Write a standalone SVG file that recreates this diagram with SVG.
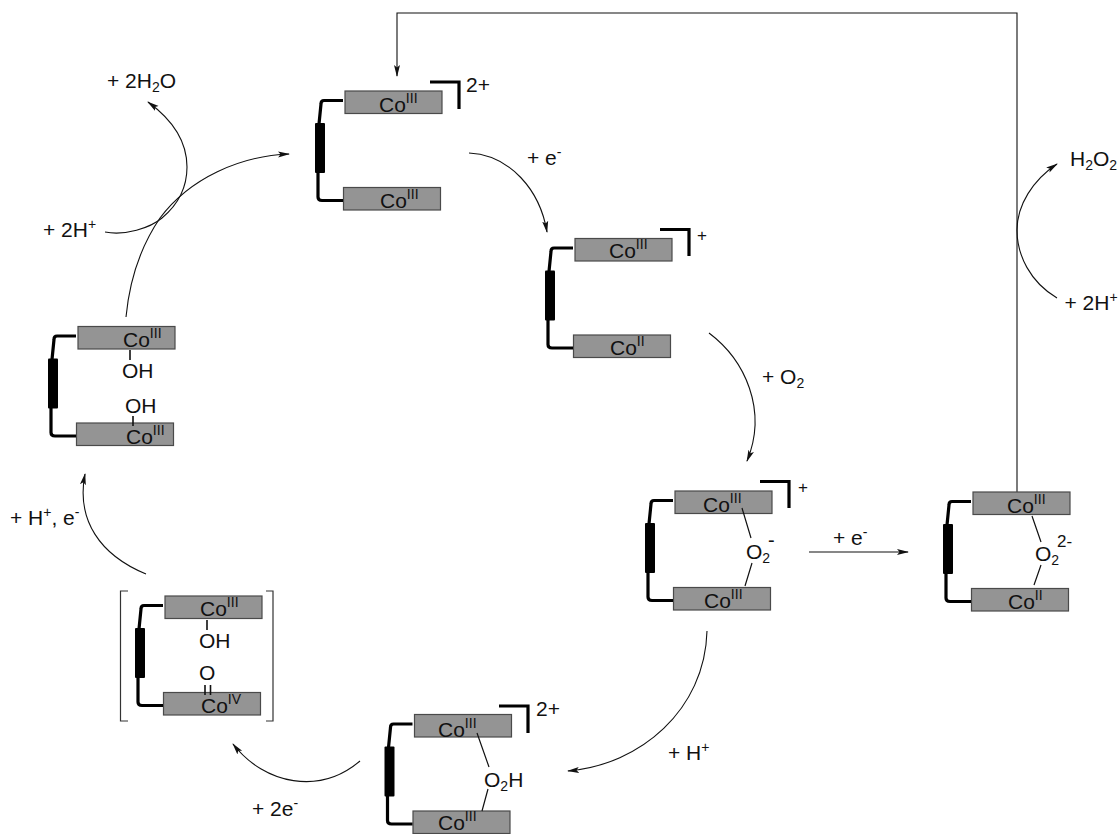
<svg xmlns="http://www.w3.org/2000/svg" width="1119" height="834" viewBox="0 0 1119 834">
<style>
text{font-family:"Liberation Sans",Arial,sans-serif;font-size:21px;fill:#111}
.s{font-size:14px}
.u{font-size:14px}
.p{font-size:17px}
.m{font-size:20px}
.bar{fill:#949494;stroke:#4a4a4a;stroke-width:1.2}
.lk{fill:none;stroke:#000;stroke-width:3.2;stroke-linejoin:round}
.blk{fill:#000}
.brk{fill:none;stroke:#000;stroke-width:3.2}
.bd{fill:none;stroke:#111;stroke-width:1.2}
.bd2{fill:none;stroke:#111;stroke-width:1.6}
.sq{fill:none;stroke:#333;stroke-width:1.2}
.cn{fill:none;stroke:#111;stroke-width:1.1;marker-end:url(#ah)}
</style>
<defs>
<marker id="ah" markerUnits="userSpaceOnUse" markerWidth="12" markerHeight="12" viewBox="0 0 12 12" refX="11" refY="6" orient="auto"><path d="M0 3 L12 6 L0 9 L2.500 6Z" fill="#111"/></marker>
<g id="frame">
<rect class="bar" x="0" y="0" width="97" height="22.500"/>
<rect class="bar" x="-1.500" y="96.500" width="97" height="22.500"/>
<path class="lk" d="M-2 9.500 H-21 Q-24 9.500 -24 13 L-26 33 M-27 80 V106 Q-27 109.500 -23 109.500 H-2"/>
<rect class="blk" x="-30" y="32" width="10" height="50" rx="1"/>
</g>
</defs>
<g id="connectors">
<path class="cn" d="M469 153 C510 155 540 190 547 232"/>
<path class="cn" d="M709 333 C745 360 768 410 747 461"/>
<path class="cn" d="M707 631 C705 710 640 765 568 771"/>
<path class="cn" d="M360 761 C320 795 265 785 233 744"/>
<path class="cn" d="M146 574 C100 555 76 520 85 474"/>
<path class="cn" d="M126 317 C130 275 143 243 160 218 C190 178 240 156 289 154"/>
<path class="cn" d="M105 232 C125 236 150 228 162 218 C180 203 187 185 187 167 C187 140 170 118 148 102"/>
<path class="cn" d="M1057 298 C1030 282 1017 255 1017 230 C1017 205 1033 180 1057 164"/>
<path class="cn" d="M1017 492 V13 H397 V76"/>
<path class="cn" d="M809 552 H908"/>
</g>
<g id="node-a">
<use href="#frame" x="345" y="91"/>
<path class="brk" d="M430 82 H459 V109"/>
<text x="379" y="112">Co<tspan class="u" dy="-9">III</tspan></text>
<text x="380" y="208">Co<tspan class="u" dy="-9">III</tspan></text>
<text x="466" y="92">2+</text>
</g>
<g id="node-b">
<use href="#frame" x="575" y="238.500"/>
<path class="brk" d="M660 229.500 H689 V256"/>
<text x="609" y="258">Co<tspan class="u" dy="-9">III</tspan></text>
<text x="610" y="355">Co<tspan class="u" dy="-9">II</tspan></text>
<text x="697" y="241" class="p">+</text>
</g>
<g id="node-c">
<use href="#frame" x="675" y="491"/>
<path class="brk" d="M760 481.500 H789 V508"/>
<text x="703" y="512">Co<tspan class="u" dy="-9">III</tspan></text>
<text x="704" y="608">Co<tspan class="u" dy="-9">III</tspan></text>
<text x="798" y="492.500" class="p">+</text>
<path class="bd" d="M742 508 L751 538 M752 563 L745 586"/>
<text x="746" y="559">O<tspan class="s" dy="4">2</tspan><tspan class="m" x="768" y="547">-</tspan></text>
</g>
<g id="node-d">
<use href="#frame" x="973" y="492"/>
<text x="1007" y="513">Co<tspan class="u" dy="-9">III</tspan></text>
<text x="1008" y="609">Co<tspan class="u" dy="-9">II</tspan></text>
<path class="bd" d="M1032 516 L1041 542 M1041 565 L1034 585"/>
<text x="1035" y="561">O<tspan class="s" dy="4">2</tspan><tspan class="p" x="1057" y="547">2-</tspan></text>
</g>
<g id="node-e">
<use href="#frame" x="414.500" y="714.500"/>
<path class="brk" d="M499 706 H528 V733"/>
<text x="438" y="736.500">Co<tspan class="u" dy="-9">III</tspan></text>
<text x="438" y="829.500">Co<tspan class="u" dy="-9">III</tspan></text>
<text x="536" y="715.500">2+</text>
<path class="bd" d="M477 733 L489 767 M488 789 L482 811"/>
<text x="484" y="786.500">O<tspan class="s" dy="4">2</tspan><tspan dy="-4">H</tspan></text>
</g>
<g id="node-f">
<use href="#frame" x="165" y="596"/>
<text x="200" y="616">Co<tspan class="u" dy="-9">III</tspan></text>
<text x="201" y="713">Co<tspan class="u" dy="-9">IV</tspan></text>
<path class="bd2" d="M207 620 V630 M205 685 V695 M210.500 685 V695"/>
<text x="199" y="648">OH</text>
<text x="199" y="680">O</text>
<path class="sq" d="M128 591 H120.500 V721 H128 M266 591 H273 V721 H266"/>
</g>
<g id="node-g">
<use href="#frame" x="78" y="326.500"/>
<text x="123" y="346.500">Co<tspan class="u" dy="-9">III</tspan></text>
<text x="126" y="444">Co<tspan class="u" dy="-9">III</tspan></text>
<path class="bd2" d="M130 350 V360 M133 416 V426"/>
<text x="122" y="378">OH</text>
<text x="125" y="412.500">OH</text>
</g>
<g id="labels">
<text x="107" y="87.500">+ 2H<tspan class="s" dy="4">2</tspan><tspan dy="-4">O</tspan></text>
<text x="43" y="237">+ 2H<tspan class="u" dy="-8">+</tspan></text>
<text x="527" y="165">+ e<tspan class="u" dy="-8">-</tspan></text>
<text x="762" y="384">+ O<tspan class="s" dy="4">2</tspan></text>
<text x="833" y="545">+ e<tspan class="u" dy="-8">-</tspan></text>
<text x="668" y="760">+ H<tspan class="u" dy="-8">+</tspan></text>
<text x="252" y="816">+ 2e<tspan class="u" dy="-8">-</tspan></text>
<text x="10" y="525">+ H<tspan class="u" dy="-8">+</tspan><tspan dy="8">, e</tspan><tspan class="u" dy="-8">-</tspan></text>
<text x="1070" y="166">H<tspan class="s" dy="4">2</tspan><tspan dy="-4">O</tspan><tspan class="s" dy="4">2</tspan></text>
<text x="1064.500" y="310">+ 2H<tspan class="u" dy="-8">+</tspan></text>
</g>
</svg>
